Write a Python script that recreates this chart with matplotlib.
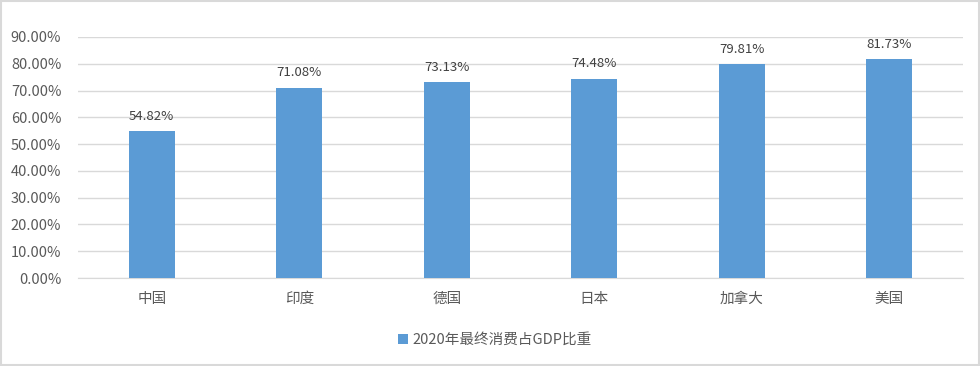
import matplotlib.pyplot as plt
from matplotlib.patches import Rectangle

countries = ['中国', '印度', '德国', '日本', '加拿大', '美国']
share = [54.82, 71.08, 73.13, 74.48, 79.81, 81.73]
series_name = '2020年最终消费占GDP比重'
yticks = [0, 10, 20, 30, 40, 50, 60, 70, 80, 90]

plt.rcParams['font.family'] = ['Noto Sans CJK SC', 'DejaVu Sans']

bar_color = '#5B9BD5'
text_color = '#595959'
grid_color = '#D9D9D9'

fig = plt.figure(figsize=(9.8, 3.66), dpi=100)
ax = fig.add_axes([78 / 980, 1 - 278 / 366, (963 - 78) / 980, (278 - 37) / 366])

x = list(range(len(countries)))
bars = ax.bar(x, share, width=0.31, color=bar_color, zorder=3, label=series_name)

# value labels above each bar
for bar, v in zip(bars, share):
    ax.annotate(f'{v:.2f}%', (bar.get_x() + bar.get_width() / 2, bar.get_height()),
                xytext=(0, 6), textcoords='offset points', ha='center', va='bottom',
                fontsize=9.5, color='#404040')

ax.set_xlim(-0.5, len(countries) - 0.5)
ax.set_ylim(0, 90)
ax.set_yticks(yticks)
ax.set_yticklabels([f'{t:.2f}%' for t in yticks])
ax.set_xticks(x)
ax.set_xticklabels(countries)
ax.tick_params(axis='both', length=0, labelsize=10.5, labelcolor=text_color)
ax.tick_params(axis='x', pad=10)
ax.tick_params(axis='y', pad=12)
ax.grid(axis='y', color=grid_color, linewidth=1, zorder=0)
for s in ['top', 'right', 'left']:
    ax.spines[s].set_visible(False)
ax.spines['bottom'].set_color(grid_color)

fig.legend(handles=[bars], labels=[series_name], loc='center', bbox_to_anchor=(495 / 980, 1 - 340 / 366),
           frameon=False, fontsize=10.5, labelcolor=text_color, handlelength=0.7, handleheight=0.7,
           handletextpad=0.3)

# outer border
fig.patches.append(Rectangle((0.001, 0.003), 0.998, 0.994, transform=fig.transFigure,
                             fill=False, edgecolor=grid_color, linewidth=1.5))

fig.savefig('out.png', dpi=100)
